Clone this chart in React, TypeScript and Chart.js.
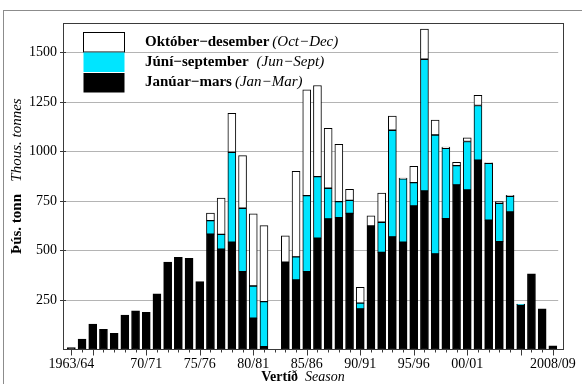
import React, { useEffect, useRef } from 'react';
import { Chart, registerables } from 'chart.js';

Chart.register(...registerables);

const SEASONS = [
  '63/64', '64/65', '65/66', '66/67', '67/68', '68/69', '69/70', '70/71', '71/72', '72/73',
  '73/74', '74/75', '75/76', '76/77', '77/78', '78/79', '79/80', '80/81', '81/82', '82/83',
  '83/84', '84/85', '85/86', '86/87', '87/88', '88/89', '89/90', '90/91', '91/92', '92/93',
  '93/94', '94/95', '95/96', '96/97', '97/98', '98/99', '99/00', '00/01', '01/02', '02/03',
  '03/04', '04/05', '05/06', '06/07', '07/08', '08/09',
];

// Thousand tonnes, January–March
const JAN_MAR = [
  10, 53, 129, 102, 82, 174, 195, 188, 281, 442,
  466, 461, 343, 583, 507, 542, 393, 158, 14, 0,
  441, 351, 393, 562, 660, 666, 688, 205, 624, 491,
  569, 542, 725, 801, 483, 661, 832, 806, 957, 653,
  545, 695, 225, 382, 205, 18,
];

// Thousand tonnes, June–September
const JUN_SEPT = [
  0, 0, 0, 0, 0, 0, 0, 0, 0, 0,
  0, 0, 0, 68, 75, 455, 321, 163, 228, 0,
  0, 117, 385, 312, 155, 81, 66, 29, 0, 152,
  539, 321, 118, 666, 601, 356, 97, 245, 276, 288,
  194, 79, 3, 0, 0, 0,
];

// Thousand tonnes, October–December
const OCT_DEC = [
  0, 0, 0, 0, 0, 0, 0, 0, 0, 0,
  0, 0, 0, 38, 183, 197, 266, 364, 384, 0,
  133, 432, 534, 460, 303, 290, 56, 80, 52, 147,
  71, 3, 83, 152, 75, 6, 17, 19, 52, 2,
  8, 5, 2, 0, 0, 0,
];

const X_TICK_LABELS = ['1963/64', '70/71', '75/76', '80/81', '85/86', '90/91', '95/96', '00/01', '2008/09'];
const X_MAJOR_TICKS = ['63/64', '65/66', '70/71', '75/76', '80/81', '85/86', '90/91', '95/96', '00/01', '05/06', '08/09'];
const Y_TICKS = [250, 500, 750, 1000, 1250, 1500];

const LEGEND_IS = ['Október−desember', 'Júní−september', 'Janúar−mars'];
const LEGEND_EN = ['(Oct−Dec)', '(Jun−Sept)', '(Jan−Mar)'];
const Y_TITLE_IS = 'Þús. tonn';
const Y_TITLE_EN = 'Thous. tonnes';
const X_TITLE_IS = 'Vertíð';
const X_TITLE_EN = 'Season';

const CYAN = '#00e5ff';
const SERIF = '"Liberation Serif", "Times New Roman", serif';

const toBars = (arr: number[]) => arr.map((v) => (v === 0 ? null : v));

const decorPlugin = {
  id: 'decor',
  afterDraw(chart: any) {
    const ctx = chart.ctx as CanvasRenderingContext2D;
    const area = chart.chartArea;
    const xs = chart.scales.x;
    ctx.save();

    // outer frame
    ctx.strokeStyle = '#8c8c8c';
    ctx.lineWidth = 1;
    ctx.strokeRect(3.5, 10.5, 700, 500);

    // plot frame
    const fl = 63.5;
    const fr = 563.5;
    const ft = Math.round(area.top) + 0.5;
    const fb = Math.round(area.bottom) - 0.5;
    ctx.strokeStyle = '#3a3a3a';
    ctx.strokeRect(fl, ft, fr - fl, fb - ft);

    // x tick marks
    ctx.strokeStyle = '#3a3a3a';
    SEASONS.forEach((s, i) => {
      const x = Math.round(xs.getPixelForValue(i)) + 0.5;
      const len = X_MAJOR_TICKS.includes(s) ? 6 : 3;
      ctx.beginPath();
      ctx.moveTo(x, fb);
      ctx.lineTo(x, fb + len);
      ctx.stroke();
    });

    // legend
    const bx = 83.5;
    const bw = 41;
    ctx.fillStyle = '#ffffff';
    ctx.fillRect(bx, 32.5, bw, 19.5);
    ctx.strokeStyle = '#000';
    ctx.strokeRect(bx, 32.5, bw, 19.5);
    ctx.fillStyle = CYAN;
    ctx.fillRect(bx, 52.5, bw, 19.5);
    ctx.fillStyle = '#000';
    ctx.fillRect(bx, 73, bw, 19.5);

    const rowsY = [42.5, 62.5, 82.5];
    const gaps = [3, 8, 3];
    ctx.textBaseline = 'middle';
    ctx.textAlign = 'left';
    LEGEND_IS.forEach((t, i) => {
      ctx.font = `bold 15px ${SERIF}`;
      ctx.fillStyle = '#000';
      ctx.fillText(t, 145, rowsY[i]);
      const w = ctx.measureText(t).width;
      ctx.font = `italic 15px ${SERIF}`;
      ctx.fillText(LEGEND_EN[i], 145 + w + gaps[i], rowsY[i]);
    });

    // y title
    ctx.save();
    ctx.translate(17, 0);
    ctx.rotate(-Math.PI / 2);
    ctx.textAlign = 'center';
    ctx.textBaseline = 'middle';
    ctx.font = `bold 15px ${SERIF}`;
    ctx.fillText(Y_TITLE_IS, -224, 0);
    ctx.font = `italic 15px ${SERIF}`;
    ctx.fillText(Y_TITLE_EN, -140, 0);
    ctx.restore();

    // x title
    ctx.textBaseline = 'middle';
    ctx.font = `bold 14px ${SERIF}`;
    const w1 = ctx.measureText(X_TITLE_IS + '  ').width;
    ctx.font = `italic 14px ${SERIF}`;
    const w2 = ctx.measureText(X_TITLE_EN).width;
    const start = 303 - (w1 + w2) / 2;
    ctx.font = `bold 14px ${SERIF}`;
    ctx.fillText(X_TITLE_IS, start, 377);
    ctx.font = `italic 14px ${SERIF}`;
    ctx.fillText(X_TITLE_EN, start + w1, 377);

    ctx.restore();
  },
};

export default function App() {
  const ref = useRef<HTMLCanvasElement | null>(null);

  useEffect(() => {
    if (!ref.current) return;
    const common = {
      borderColor: '#000',
      borderWidth: 1,
      borderSkipped: false as const,
      barThickness: 8,
    };
    const chart = new Chart(ref.current, {
      type: 'bar',
      data: {
        labels: SEASONS,
        datasets: [
          { label: 'Janúar−mars', data: toBars(JAN_MAR), backgroundColor: '#000', ...common },
          { label: 'Júní−september', data: toBars(JUN_SEPT), backgroundColor: CYAN, ...common },
          { label: 'Október−desember', data: toBars(OCT_DEC), backgroundColor: '#fff', ...common },
        ],
      },
      options: {
        animation: false,
        responsive: false,
        maintainAspectRatio: false,
        layout: { padding: { left: 0, top: 23, right: 19, bottom: 0 } },
        plugins: { legend: { display: false }, tooltip: { enabled: false } },
        scales: {
          x: {
            stacked: true,
            grid: { display: false, drawTicks: false },
            border: { display: false },
            ticks: {
              autoSkip: false,
              maxRotation: 0,
              minRotation: 0,
              padding: 6,
              color: '#000',
              font: { family: SERIF, size: 14 },
              callback: (_v: any, i: number) => {
                const s = SEASONS[i];
                const lab = X_TICK_LABELS.find((l) => l.slice(-5) === s);
                return lab ?? '';
              },
            },
            afterFit: (s: any) => {
              s.height = 34.5;
            },
          },
          y: {
            stacked: true,
            min: 0,
            max: 1650,
            grid: { color: '#b4b4b4', tickColor: '#3a3a3a', tickLength: 6, lineWidth: 1 },
            border: { display: false },
            afterBuildTicks: (s: any) => {
              s.ticks = Y_TICKS.map((v) => ({ value: v }));
            },
            ticks: {
              padding: 3,
              color: '#000',
              font: { family: SERIF, size: 14 },
              callback: (v: any) => String(v),
            },
            afterFit: (s: any) => {
              s.width = 66;
            },
          },
        },
      },
      plugins: [decorPlugin],
    });
    return () => chart.destroy();
  }, []);

  return (
    <div style={{ position: 'fixed', left: 0, top: 0, width: 582, height: 384, background: '#fff' }}>
      <canvas ref={ref} width={582} height={384} style={{ width: 582, height: 384 }} />
    </div>
  );
}
